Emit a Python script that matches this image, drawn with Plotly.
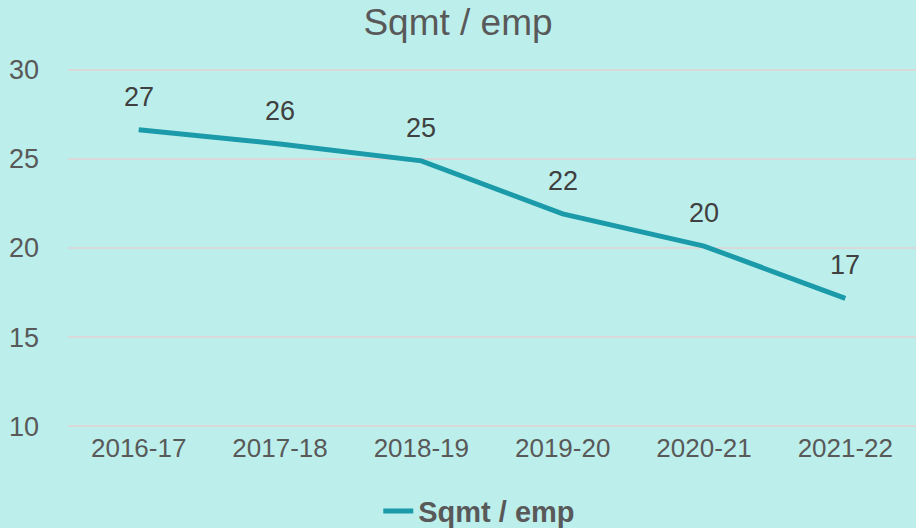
import plotly.graph_objects as go

categories = ["2016-17", "2017-18", "2018-19", "2019-20", "2020-21", "2021-22"]
sqmt_per_emp = [26.63, 25.84, 24.89, 21.91, 20.11, 17.17]
y_ticks = [10, 15, 20, 25, 30]

BG = "#BCEFEB"
LINE = "#1B9AAA"
FONT = "Liberation Sans, Arial, sans-serif"

fig = go.Figure()
fig.add_trace(go.Scatter(
    x=categories, y=sqmt_per_emp, mode="lines", name="Sqmt / emp",
    line=dict(color=LINE, width=5), hoverinfo="skip",
))

for c, v in zip(categories, sqmt_per_emp):
    fig.add_annotation(x=c, y=v, text=f"{v:.0f}", showarrow=False, yshift=33,
                       font=dict(family=FONT, size=27, color="#404040"))

fig.update_layout(
    width=916, height=528,
    paper_bgcolor=BG, plot_bgcolor=BG,
    margin=dict(l=68, r=0, t=68, b=100, autoexpand=False),
    title=dict(text="Sqmt / emp", x=0.5, xref="container", xanchor="center",
               y=0.958, yanchor="middle",
               font=dict(family=FONT, size=37, color="#595959")),
    font=dict(family=FONT, color="#595959"),
    showlegend=True,
    legend=dict(orientation="h", x=0.485, xanchor="center", y=-0.231, yanchor="middle",
                font=dict(family=FONT, size=29, color="#595959", weight="bold"),
                bgcolor="rgba(0,0,0,0)"),
)
fig.update_xaxes(type="category", range=[-0.5, 5.5], showgrid=False, showline=False,
                 zeroline=False, ticks="", tickfont=dict(size=26, color="#595959"),
                 ticklabelstandoff=2)
fig.update_yaxes(range=[9.9, 30.1], tickvals=y_ticks, showgrid=True, gridcolor="#D9D9D9",
                 gridwidth=2, zeroline=False, showline=False, ticks="",
                 tickfont=dict(size=27, color="#595959"), ticklabelstandoff=28)

fig.write_html("out.html", config={"displayModeBar": False},
               post_script="document.body.style.margin='0';")
